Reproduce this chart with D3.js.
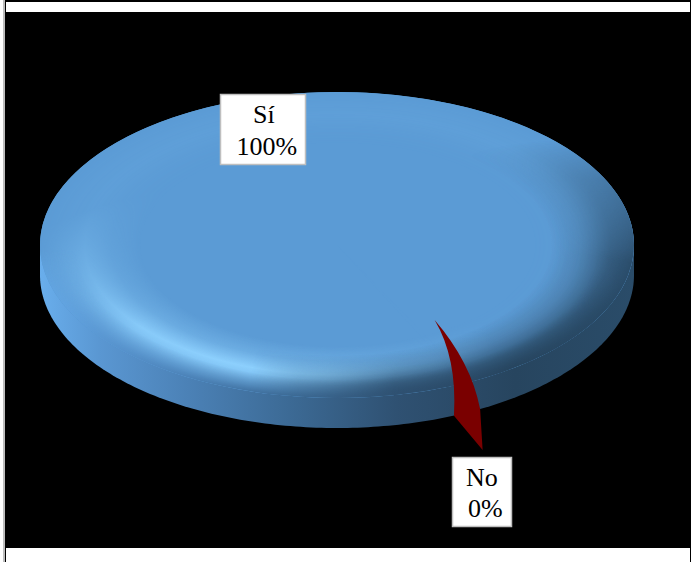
<!DOCTYPE html>
<html lang="es">
<head>
<meta charset="utf-8">
<title>Sí / No</title>
<script src="https://cdn.jsdelivr.net/npm/d3@7/dist/d3.min.js"></script>
<style>
  html, body { margin: 0; padding: 0; background: #fff; }
  svg { display: block; }
  text { font-family: "Liberation Serif", "Times New Roman", serif; font-size: 26px; fill: #000; }
</style>
</head>
<body>
<svg id="chart" width="691" height="562"></svg>
<script>
// Survey answers, in percent; the labels round them to whole numbers.
const categories = ["Sí", "No"];
const shares = [99.6, 0.4];
const sliceColors = ["#5B9BD5", "#7A0000"];

const svg = d3.select("#chart");
const defs = svg.append("defs");

// Frame: hairlines at the page edge, then the black plot panel.
svg.append("rect").attr("x", 3).attr("y", 0).attr("width", 688).attr("height", 2).attr("fill", "#000");
svg.append("rect").attr("x", 3).attr("y", 0).attr("width", 2).attr("height", 562).attr("fill", "#bdbdbd");
svg.append("rect").attr("x", 5).attr("y", 0).attr("width", 1).attr("height", 562).attr("fill", "#000");
svg.append("rect").attr("x", 690).attr("y", 0).attr("width", 1).attr("height", 562).attr("fill", "#000");
svg.append("rect").attr("x", 5).attr("y", 12).attr("width", 685).attr("height", 536).attr("fill", "#000");

// Tilted-disc projection.
const cx = 337, cy = 245, rx = 297, ry = 153, depth = 30;
const tilt = ry / rx;
const discTransform = () => `translate(${cx},${cy}) scale(1,${tilt})`;

// The small slice sits just right of six o'clock, so the pie starts there.
const sliverMid = 154 * Math.PI / 180;
const noTurn = shares[1] / d3.sum(shares) * 2 * Math.PI;
const pie = d3.pie().sort(null).value(d => d)
  .startAngle(sliverMid + noTurn / 2)
  .endAngle(sliverMid + noTurn / 2 + 2 * Math.PI);
const slices = pie(shares);

// Side wall of the disc, lit from the left.
const wallGrad = defs.append("linearGradient").attr("id", "wall")
  .attr("gradientUnits", "userSpaceOnUse")
  .attr("x1", cx - rx).attr("x2", cx + rx).attr("y1", 0).attr("y2", 0);
[[0, "#69AEEC"], [0.1, "#5A97D2"], [0.25, "#4B81B6"], [0.42, "#3C6A95"], [0.6, "#2F5172"], [0.8, "#27455F"], [1, "#2A4C69"]]
  .forEach(([o, c]) => wallGrad.append("stop").attr("offset", o).attr("stop-color", c));

const wallPoints = d3.range(0, 180.5, 1).map(a => {
  const t = a * Math.PI / 180;
  return [cx + rx * Math.cos(t), cy + depth + ry * Math.sin(t)];
});
svg.append("path")
  .attr("d", `M${cx - rx},${cy}L${cx + rx},${cy}` + d3.line()(wallPoints).replace("M", "L") + "Z")
  .attr("fill", "url(#wall)");

// Top face: the large slice as a flattened arc over a backing ellipse of the same colour.
const arc = d3.arc().innerRadius(0).outerRadius(rx);
svg.append("ellipse")
  .attr("cx", cx).attr("cy", cy).attr("rx", rx).attr("ry", ry)
  .attr("fill", sliceColors[0]);
svg.append("path")
  .attr("d", arc(slices[0]))
  .attr("transform", discTransform())
  .attr("fill", sliceColors[0]);

// Bevel shading: radial rings on the face, each limited to one side by a soft mask.
function ring(id, color, stops) {
  const g = defs.append("radialGradient").attr("id", id)
    .attr("cx", 0.5).attr("cy", 0.5).attr("r", 0.5);
  stops.forEach(([o, a]) => g.append("stop").attr("offset", o).attr("stop-color", color).attr("stop-opacity", a));
}
function softMask(id, mx, my, mrx, mry, stops) {
  const g = defs.append("radialGradient").attr("id", id + "G")
    .attr("gradientUnits", "userSpaceOnUse")
    .attr("cx", 0).attr("cy", 0).attr("r", 1)
    .attr("gradientTransform", `translate(${mx},${my}) scale(${mrx},${mry})`);
  stops.forEach(([o, a]) => g.append("stop").attr("offset", o).attr("stop-color", "#fff").attr("stop-opacity", a));
  defs.append("mask").attr("id", id)
    .attr("maskUnits", "userSpaceOnUse")
    .attr("x", 0).attr("y", 0).attr("width", 691).attr("height", 562)
    .append("rect").attr("width", 691).attr("height", 562).attr("fill", `url(#${id}G)`);
}
const face = (parent, fill, mask) => parent.append("ellipse")
  .attr("cx", cx).attr("cy", cy).attr("rx", rx).attr("ry", ry)
  .attr("fill", fill).attr("mask", mask);

ring("lightRing", "#8FD2FF", [[0.66, 0], [0.76, 0.35], [0.85, 1], [0.92, 0.65], [1, 0.1]]);
softMask("lightMask", 215, 385, 285, 195, [[0, 1], [0.4, 0.85], [0.7, 0.45], [1, 0.08]]);
face(svg, "url(#lightRing)", "url(#lightMask)");

ring("darkRing", "#264560", [[0.72, 0], [0.82, 0.3], [0.92, 0.75], [1, 0.95]]);
softMask("darkMask", 570, 395, 320, 255, [[0, 1], [0.55, 0.95], [0.85, 0.4], [1, 0]]);
face(svg, "url(#darkRing)", "url(#darkMask)");

// The rim melts into the wall on the near half of the disc.
const nearHalf = defs.append("linearGradient").attr("id", "nearHalfG")
  .attr("gradientUnits", "userSpaceOnUse")
  .attr("x1", 0).attr("x2", 0).attr("y1", cy + 5).attr("y2", cy + 70);
[[0, 0], [1, 1]].forEach(([o, a]) => nearHalf.append("stop").attr("offset", o).attr("stop-color", "#fff").attr("stop-opacity", a));
defs.append("mask").attr("id", "nearHalf")
  .attr("maskUnits", "userSpaceOnUse")
  .attr("x", 0).attr("y", 0).attr("width", 691).attr("height", 562)
  .append("rect").attr("width", 691).attr("height", 562).attr("fill", "url(#nearHalfG)");
softMask("rimMask", cx, cy, rx, ry, [[0.88, 0], [0.96, 0.6], [1, 1]]);
face(svg.append("g").attr("mask", "url(#nearHalf)"), "url(#wall)", "url(#rimMask)");

// The pulled-out slice: its outline follows the slice's own mid-angle, widened so it stays visible.
const sliver = slices[1];
const flare = 3.9;
const half = (sliver.endAngle - sliver.startAngle) / 2 * flare;
const mid = (sliver.startAngle + sliver.endAngle) / 2;
const project = (offset, r, lift) => {
  const a = mid + offset * half;
  return [cx + r * rx * Math.sin(a), cy - r * ry * Math.cos(a) + lift * depth];
};
const sliverPath = d3.path();
sliverPath.moveTo(...project(-2.8, 0.59, 0));
sliverPath.quadraticCurveTo(...project(-1, 0.84, 0), ...project(1, 1, 1));
sliverPath.lineTo(...project(1, 1.245, 1));
sliverPath.lineTo(...project(-1, 1, 1));
sliverPath.quadraticCurveTo(...project(-1.6, 0.89, 0), ...project(-2.8, 0.59, 0));
sliverPath.closePath();
svg.append("path").attr("d", sliverPath.toString()).attr("fill", sliceColors[1]);

// Data labels: white boxes with a category line and a rounded percentage line.
const labelBoxes = [
  { x: 220.5, y: 94.5, w: 85, h: 70, nameX: 253, pctX: 236.5, nameY: 123, pctY: 155 },
  { x: 452.5, y: 457.5, w: 59, h: 69, nameX: 466, pctX: 468, nameY: 486, pctY: 517 }
];
const labels = svg.selectAll("g.label").data(categories).join("g").attr("class", "label");
labels.append("rect")
  .attr("x", (d, i) => labelBoxes[i].x).attr("y", (d, i) => labelBoxes[i].y)
  .attr("width", (d, i) => labelBoxes[i].w).attr("height", (d, i) => labelBoxes[i].h)
  .attr("fill", "#fff").attr("stroke", "#BFBFBF").attr("stroke-width", 1.5);
labels.append("text")
  .attr("x", (d, i) => labelBoxes[i].nameX).attr("y", (d, i) => labelBoxes[i].nameY)
  .text(d => d);
labels.append("text")
  .attr("x", (d, i) => labelBoxes[i].pctX).attr("y", (d, i) => labelBoxes[i].pctY)
  .text((d, i) => `${Math.round(shares[i])}%`);
</script>
</body>
</html>
